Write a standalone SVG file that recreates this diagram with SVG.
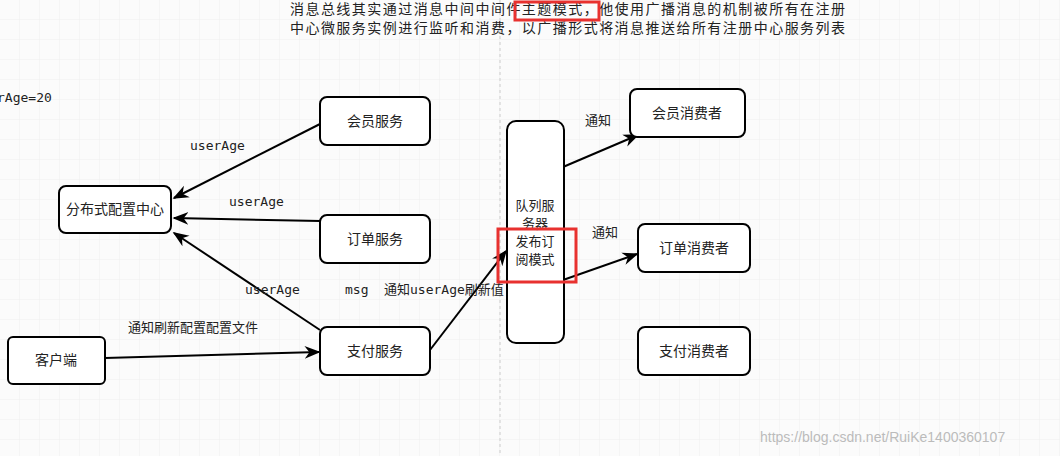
<svg xmlns="http://www.w3.org/2000/svg" width="1060" height="456" viewBox="0 0 1060 456">
<defs>
<pattern id="g" width="20" height="20" patternUnits="userSpaceOnUse"><path d="M20 0V20H0" fill="none" stroke="#efefef" stroke-width="1"/></pattern>
<marker id="a" viewBox="0 0 10 10" refX="9" refY="5" markerWidth="8" markerHeight="8" orient="auto"><path d="M0 1L10 5L0 9L3 5Z" fill="#000"/></marker>
<style>
.n{fill:#fff;stroke:#000;stroke-width:2}
.t{font-family:"Noto Sans CJK SC","Liberation Sans",sans-serif;font-size:14px;fill:#222;text-anchor:middle}
.q{font-size:13px}
.l{font-family:"DejaVu Sans Mono","Noto Sans CJK SC",monospace;font-size:13px;fill:#222}
.c{stroke:#000;stroke-width:2;fill:none;marker-end:url(#a)}
.r{fill:none;stroke:#e8312f;stroke-width:3}
.h{font-family:"Noto Sans CJK SC",serif;font-size:14px;fill:#222}
</style>
</defs>
<rect width="1060" height="456" fill="#fbfbfb"/>
<rect width="1060" height="456" fill="url(#g)"/>
<line x1="500" y1="0" x2="500" y2="456" stroke="#ccc" stroke-dasharray="3 3"/>
<text class="h" x="290" y="14" textLength="555" lengthAdjust="spacing">消息总线其实通过消息中间中间件主题模式，他使用广播消息的机制被所有在注册</text>
<text class="h" x="290" y="33" textLength="555" lengthAdjust="spacing">中心微服务实例进行监听和消费，以广播形式将消息推送给所有注册中心服务列表</text>
<text class="l" x="-3" y="102">rAge=20</text>
<g id="connectors">
<line class="c" x1="320" y1="124" x2="174" y2="198"/>
<line class="c" x1="320" y1="221" x2="174" y2="218"/>
<line class="c" x1="320" y1="330" x2="174" y2="233"/>
<line class="c" x1="105" y1="358" x2="319" y2="352"/>
<line class="c" x1="430" y1="350" x2="506" y2="251"/>
<line class="c" x1="563" y1="167" x2="638" y2="135"/>
<line class="c" x1="563" y1="280" x2="637" y2="254"/>
<text class="l" x="190" y="150">userAge</text>
<text class="l" x="229" y="206">userAge</text>
<text class="l" x="245" y="294">userAge</text>
<text class="l" x="345" y="294">msg</text>
<text class="l" x="384" y="294">通知userAge刷新值</text>
<text class="l" x="128" y="332">通知刷新配置配置文件</text>
<text class="l" x="585" y="125">通知</text>
<text class="l" x="592" y="237">通知</text>
</g>
<g id="hyfw"><rect class="n" x="320" y="97" width="110" height="48" rx="7"/><text class="t" x="375" y="126">会员服务</text></g>
<g id="pzzx"><rect class="n" x="59" y="186" width="112" height="47" rx="7"/><text class="t" x="115" y="214">分布式配置中心</text></g>
<g id="ddfw"><rect class="n" x="320" y="215" width="110" height="48" rx="7"/><text class="t" x="375" y="244">订单服务</text></g>
<g id="khd"><rect class="n" x="8" y="337" width="97" height="47" rx="5"/><text class="t" x="56" y="365">客户端</text></g>
<g id="zffw"><rect class="n" x="320" y="327" width="110" height="48" rx="7"/><text class="t" x="375" y="356">支付服务</text></g>
<g id="queue"><rect class="n" x="507" y="121" width="57" height="222" rx="9"/>
<text class="t q" x="535" y="210">队列服</text><text class="t q" x="535" y="228">务器</text><text class="t q" x="535" y="246">发布订</text><text class="t q" x="535" y="264">阅模式</text></g>
<g id="hyxf"><rect class="n" x="630" y="89" width="115" height="48" rx="7"/><text class="t" x="687" y="118">会员消费者</text></g>
<g id="ddxf"><rect class="n" x="638" y="224" width="112" height="48" rx="7"/><text class="t" x="694" y="253">订单消费者</text></g>
<g id="zfxf"><rect class="n" x="638" y="327" width="112" height="48" rx="7"/><text class="t" x="694" y="356">支付消费者</text></g>
<rect class="r" x="515" y="2" width="84" height="18"/>
<rect class="r" x="498" y="229" width="78" height="53"/>
<text x="760" y="442" style="font-family:'Liberation Sans',sans-serif;font-size:14px;fill:#bbb">https://blog.csdn.net/RuiKe1400360107</text>
</svg>
